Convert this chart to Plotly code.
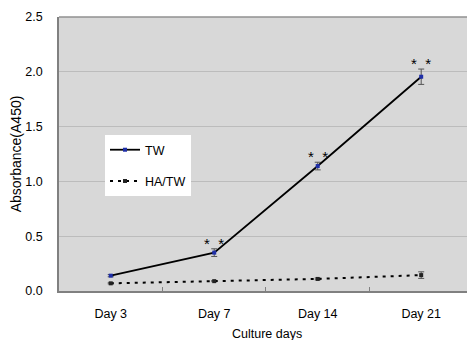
import plotly.graph_objects as go

categories = ["Day 3", "Day 7", "Day 14", "Day 21"]
tw_values = [0.14, 0.35, 1.14, 1.955]
tw_errors = [0.01, 0.035, 0.035, 0.07]
hatw_values = [0.07, 0.09, 0.11, 0.145]
hatw_errors = [0.005, 0.005, 0.008, 0.03]
significance = ["", "*  *", "*  *", "*  *"]
y_ticks = [0.0, 0.5, 1.0, 1.5, 2.0, 2.5]
y_tick_labels = ["0.0", "0.5", "1.0", "1.5", "2.0", "2.5"]
x_title = "Culture days"
y_title = "Absorbance(A450)"

FONT = "Liberation Sans, Arial, sans-serif"

fig = go.Figure()
fig.add_trace(go.Scatter(
    x=categories, y=tw_values, name="TW", mode="lines+markers",
    line=dict(color="black", width=1.8),
    marker=dict(symbol="square", size=4, color="#1f2fa8"),
    error_y=dict(type="data", array=tw_errors, color="#555555", thickness=1, width=3),
    legendgroup="a",
))
fig.add_trace(go.Scatter(
    x=categories, y=hatw_values, name="HA/TW", mode="lines+markers",
    line=dict(color="black", width=2, dash="3px,5px"),
    marker=dict(symbol="square", size=4, color="#222222"),
    error_y=dict(type="data", array=hatw_errors, color="#555555", thickness=1, width=3),
    legendgroup="b",
))

for c, v, e, s in zip(categories, tw_values, tw_errors, significance):
    if s:
        fig.add_annotation(x=c, y=v + e, text=s, showarrow=False, yanchor="bottom",
                           yshift=-5, font=dict(family=FONT, size=15, color="black"))

# x-axis title as an annotation below the tick labels
fig.add_annotation(x=0.5, y=0, xref="paper", yref="paper", text=x_title,
                   showarrow=False, yanchor="middle", yshift=-43,
                   font=dict(family=FONT, size=12.5, color="black"))

# The page body has an 8px margin; the figure is sized to fill the rest of the window.
fig.update_layout(
    width=467, height=332,
    margin=dict(l=51, r=0, t=9, b=49),
    paper_bgcolor="white",
    plot_bgcolor="#d8d8d8",
    font=dict(family=FONT, size=12.5, color="black"),
    showlegend=True,
    legend=dict(x=0.1106, y=0.569, xanchor="left", yanchor="top",
                bgcolor="white", borderwidth=0, traceorder="grouped",
                tracegroupgap=12, itemwidth=30,
                font=dict(family=FONT, size=12.5)),
)
fig.update_xaxes(
    type="category", range=[-0.5, 3.52], automargin=False,
    showline=True, linecolor="#808080", linewidth=1.5,
    ticks="inside", tickson="boundaries", ticklen=4, tickcolor="#808080",
    showgrid=False, mirror=False, ticklabelstandoff=10,
    tickfont=dict(size=12.5),
)
fig.update_yaxes(
    range=[0, 2.5], tickvals=y_ticks, ticktext=y_tick_labels, automargin=False,
    showline=True, linecolor="#808080", linewidth=1.5,
    showgrid=True, gridcolor="#bcbcbc", gridwidth=1.2,
    zeroline=False, ticks="", ticklabelstandoff=12,
    title=dict(text=y_title, font=dict(size=14), standoff=3),
    tickfont=dict(size=12.5),
)
fig.add_shape(type="line", xref="paper", yref="paper", x0=0, x1=1, y0=1, y1=1,
              line=dict(color="#909090", width=1.5))

fig.write_html("out.html")
